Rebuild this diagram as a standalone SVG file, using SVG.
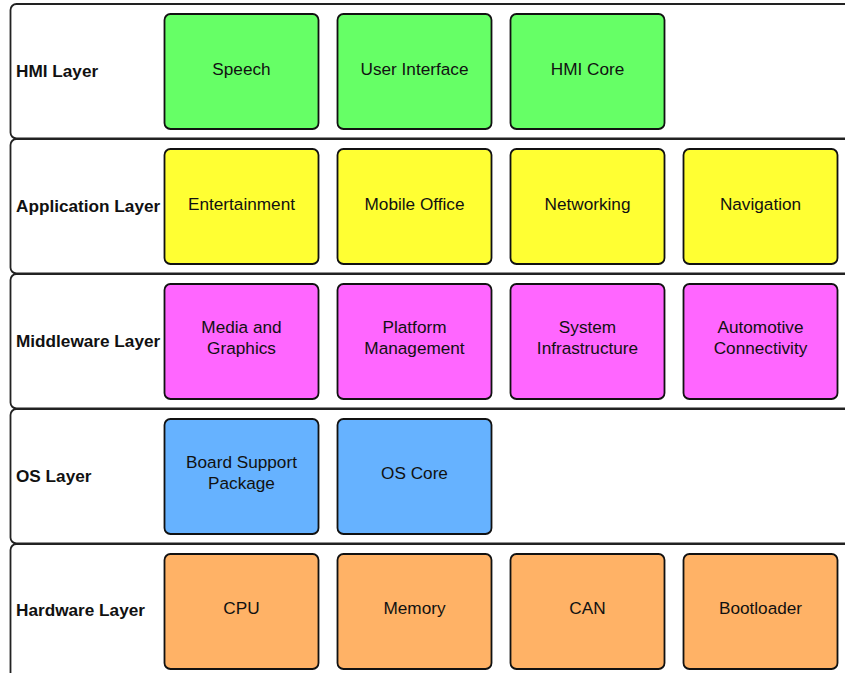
<svg xmlns="http://www.w3.org/2000/svg" width="845" height="673" viewBox="0 0 845 673">
  <style>
    .band { fill: #ffffff; stroke: #222; stroke-width: 1.8; }
    .layer { font-family: "Liberation Sans", Arial, sans-serif; font-size: 17.2px; font-weight: bold; fill: #111; }
    .box { stroke: #111; stroke-width: 1.8; }
    .lbl { font-family: "Liberation Sans", Arial, sans-serif; font-size: 17.2px; fill: #111; text-anchor: middle; }
    .hmi { fill: #66ff66; }
    .app { fill: #ffff33; }
    .mid { fill: #ff66ff; }
    .os { fill: #66b2ff; }
    .hw { fill: #ffb266; }
  </style>
  <rect width="845" height="673" fill="#ffffff"/>

  <!-- Layer bands -->
  <g id="layers">
    <g id="layer-hmi">
      <rect class="band" x="10.5" y="4" width="860" height="134.5" rx="6"/>
      <text class="layer" x="16" y="77">HMI Layer</text>
    </g>
    <g id="layer-app">
      <rect class="band" x="10.5" y="139" width="860" height="134.5" rx="6"/>
      <text class="layer" x="16" y="212">Application Layer</text>
    </g>
    <g id="layer-mid">
      <rect class="band" x="10.5" y="274" width="860" height="134.5" rx="6"/>
      <text class="layer" x="16" y="347">Middleware Layer</text>
    </g>
    <g id="layer-os">
      <rect class="band" x="10.5" y="409" width="860" height="134.5" rx="6"/>
      <text class="layer" x="16" y="482">OS Layer</text>
    </g>
    <g id="layer-hw">
      <rect class="band" x="10.5" y="544" width="860" height="140" rx="6"/>
      <text class="layer" x="16" y="616">Hardware Layer</text>
    </g>
  </g>

  <!-- HMI components -->
  <g id="speech"><rect class="box hmi" x="164.5" y="14" width="154" height="115" rx="6"/><text class="lbl" x="241.5" y="75">Speech</text></g>
  <g id="user-interface"><rect class="box hmi" x="337.5" y="14" width="154" height="115" rx="6"/><text class="lbl" x="414.5" y="75">User Interface</text></g>
  <g id="hmi-core"><rect class="box hmi" x="510.5" y="14" width="154" height="115" rx="6"/><text class="lbl" x="587.5" y="75">HMI Core</text></g>

  <!-- Application components -->
  <g id="entertainment"><rect class="box app" x="164.5" y="149" width="154" height="115" rx="6"/><text class="lbl" x="241.5" y="210">Entertainment</text></g>
  <g id="mobile-office"><rect class="box app" x="337.5" y="149" width="154" height="115" rx="6"/><text class="lbl" x="414.5" y="210">Mobile Office</text></g>
  <g id="networking"><rect class="box app" x="510.5" y="149" width="154" height="115" rx="6"/><text class="lbl" x="587.5" y="210">Networking</text></g>
  <g id="navigation"><rect class="box app" x="683.5" y="149" width="154" height="115" rx="6"/><text class="lbl" x="760.5" y="210">Navigation</text></g>

  <!-- Middleware components -->
  <g id="media-graphics"><rect class="box mid" x="164.5" y="284" width="154" height="115" rx="6"/><text class="lbl" x="241.5" y="333">Media and</text><text class="lbl" x="241.5" y="354">Graphics</text></g>
  <g id="platform-management"><rect class="box mid" x="337.5" y="284" width="154" height="115" rx="6"/><text class="lbl" x="414.5" y="333">Platform</text><text class="lbl" x="414.5" y="354">Management</text></g>
  <g id="system-infrastructure"><rect class="box mid" x="510.5" y="284" width="154" height="115" rx="6"/><text class="lbl" x="587.5" y="333">System</text><text class="lbl" x="587.5" y="354">Infrastructure</text></g>
  <g id="automotive-connectivity"><rect class="box mid" x="683.5" y="284" width="154" height="115" rx="6"/><text class="lbl" x="760.5" y="333">Automotive</text><text class="lbl" x="760.5" y="354">Connectivity</text></g>

  <!-- OS components -->
  <g id="bsp"><rect class="box os" x="164.5" y="419" width="154" height="115" rx="6"/><text class="lbl" x="241.5" y="468">Board Support</text><text class="lbl" x="241.5" y="489">Package</text></g>
  <g id="os-core"><rect class="box os" x="337.5" y="419" width="154" height="115" rx="6"/><text class="lbl" x="414.5" y="479">OS Core</text></g>

  <!-- Hardware components -->
  <g id="cpu"><rect class="box hw" x="164.5" y="554" width="154" height="115" rx="6"/><text class="lbl" x="241.5" y="614">CPU</text></g>
  <g id="memory"><rect class="box hw" x="337.5" y="554" width="154" height="115" rx="6"/><text class="lbl" x="414.5" y="614">Memory</text></g>
  <g id="can"><rect class="box hw" x="510.5" y="554" width="154" height="115" rx="6"/><text class="lbl" x="587.5" y="614">CAN</text></g>
  <g id="bootloader"><rect class="box hw" x="683.5" y="554" width="154" height="115" rx="6"/><text class="lbl" x="760.5" y="614">Bootloader</text></g>

  <!-- No connectors in this diagram -->
  <g id="connectors"/>
</svg>
